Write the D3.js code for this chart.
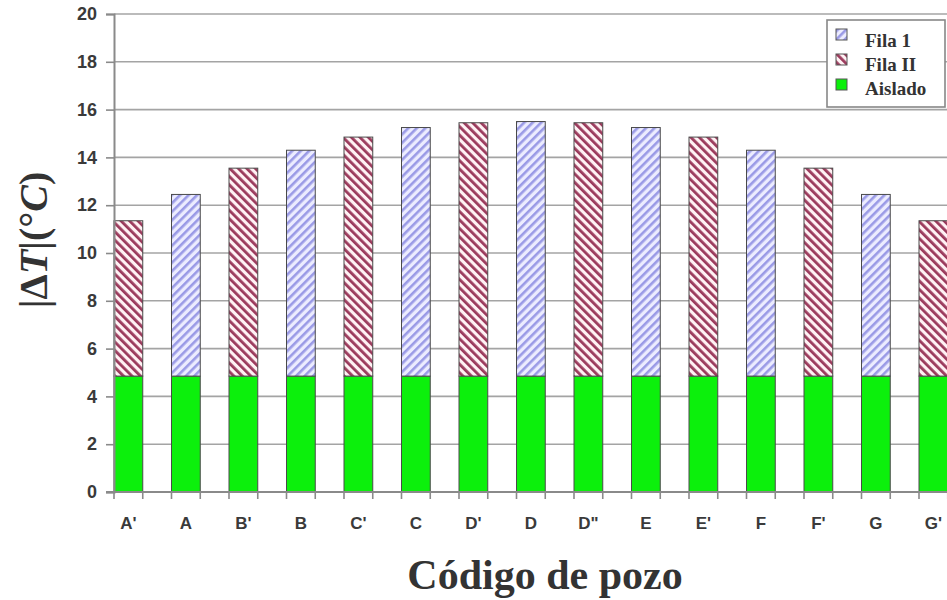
<!DOCTYPE html>
<html>
<head>
<meta charset="utf-8">
<script src="https://cdn.jsdelivr.net/npm/d3@7"></script>
<style>
  body { margin: 0; background: #fff; }
  svg { display: block; }
</style>
</head>
<body>
<div id="chart"></div>
<script>
'use strict';

// data
const categories = ["A'", "A", "B'", "B", "C'", "C", "D'", "D", 'D"', "E", "E'", "F", "F'", "G", "G'"];
const aislado = [4.85, 4.85, 4.85, 4.85, 4.85, 4.85, 4.85, 4.85, 4.85, 4.85, 4.85, 4.85, 4.85, 4.85, 4.85];
const fila1   = [0, 7.6, 0, 9.45, 0, 10.4, 0, 10.65, 0, 10.4, 0, 9.45, 0, 7.6, 0];
const fila2   = [6.5, 0, 8.7, 0, 10.0, 0, 10.6, 0, 10.6, 0, 10.0, 0, 8.7, 0, 6.5];
const yTicks  = [0, 2, 4, 6, 8, 10, 12, 14, 16, 18, 20];
const legendNames = ['Fila 1', 'Fila II', 'Aislado'];

if (document.readyState !== 'loading') {
  ready();
}
else {
  document.addEventListener('DOMContentLoaded', ready);
}

function ready() {
  const width = 947, height = 600;
  const svg = d3.select('#chart').append('svg').attr('width', width).attr('height', height);

  //hatch patterns
  const defs = svg.append('defs');
  let p1 = defs.append('pattern').attr('id', 'hatch1').attr('patternUnits', 'userSpaceOnUse')
    .attr('width', 6).attr('height', 6).attr('patternTransform', 'rotate(45)');
  p1.append('rect').attr('width', 6).attr('height', 6).attr('fill', '#ececff');
  p1.append('rect').attr('x', 0).attr('width', 2.6).attr('height', 6).attr('fill', '#9a9ae6');

  let p2 = defs.append('pattern').attr('id', 'hatch2').attr('patternUnits', 'userSpaceOnUse')
    .attr('width', 6).attr('height', 6).attr('patternTransform', 'rotate(-45)');
  p2.append('rect').attr('width', 6).attr('height', 6).attr('fill', '#fff2f4');
  p2.append('rect').attr('x', 0).attr('width', 2.8).attr('height', 6).attr('fill', '#9b3a5c');

  const fills = { fila1: 'url(#hatch1)', fila2: 'url(#hatch2)', aislado: '#0cf00c' };

  //scales
  let x = d3.scaleBand().domain(categories).range([114, 947.75]).paddingInner(0.5).paddingOuter(0).align(0);
  let y = d3.scaleLinear().domain([0, 20]).range([492, 14]);

  //gridlines
  svg.append('g').selectAll('line').data(yTicks.filter(d => d > 0)).join('line')
    .attr('x1', 114).attr('x2', width).attr('y1', d => y(d)).attr('y2', d => y(d))
    .attr('stroke', '#a4a4a4').attr('stroke-width', 1.6);

  //stacked bars
  let table = categories.map((c, i) => ({ cat: c, aislado: aislado[i], fila1: fila1[i], fila2: fila2[i] }));
  let stacked = d3.stack().keys(['aislado', 'fila1', 'fila2'])(table);

  svg.append('g').selectAll('g').data(stacked).join('g')
    .attr('fill', d => fills[d.key])
    .selectAll('rect').data(d => d.filter(s => s[1] - s[0] > 0)).join('rect')
    .attr('x', d => x(d.data.cat))
    .attr('y', d => y(d[1]))
    .attr('width', x.bandwidth())
    .attr('height', d => y(d[0]) - y(d[1]))
    .attr('stroke', '#4a4a4a').attr('stroke-width', 1);

  //y axis
  let yAxis = svg.append('g').attr('transform', 'translate(114,0)')
    .call(d3.axisLeft(y).tickValues(yTicks).tickSize(8).tickPadding(9));
  yAxis.select('.domain').attr('stroke', '#8a8a8a').attr('stroke-width', 2);
  yAxis.selectAll('.tick line').attr('stroke', '#8a8a8a').attr('stroke-width', 1.6);
  yAxis.selectAll('.tick text').attr('font-family', 'Liberation Sans, Arial, sans-serif')
    .attr('font-size', 18).attr('font-weight', 'bold').attr('fill', '#3a3a3a');

  //x axis: labels under each bar, ticks at both bar edges
  let xAxis = svg.append('g').attr('transform', 'translate(0,492)')
    .call(d3.axisBottom(x).tickSize(0).tickPadding(25));
  xAxis.select('.domain').remove();
  xAxis.selectAll('.tick text').attr('font-family', 'Liberation Sans, Arial, sans-serif')
    .attr('font-size', 17).attr('font-weight', 'bold').attr('fill', '#3a3a3a');

  svg.append('line').attr('x1', 106).attr('x2', width).attr('y1', 492).attr('y2', 492)
    .attr('stroke', '#8a8a8a').attr('stroke-width', 2);
  let edges = [];
  categories.forEach(c => { edges.push(x(c)); edges.push(x(c) + x.bandwidth()); });
  svg.append('g').selectAll('line').data(edges).join('line')
    .attr('x1', d => d).attr('x2', d => d).attr('y1', 492).attr('y2', 499)
    .attr('stroke', '#8a8a8a').attr('stroke-width', 1.6);

  //axis titles
  svg.append('text').attr('x', 545).attr('y', 589).attr('text-anchor', 'middle')
    .attr('font-family', 'Liberation Serif, Times New Roman, serif').attr('font-weight', 'bold')
    .attr('font-size', 42).attr('fill', '#333').text('Código de pozo');

  let yl = svg.append('text').attr('transform', 'translate(47,240) rotate(-90)').attr('text-anchor', 'middle')
    .attr('font-family', 'Liberation Serif, Times New Roman, serif').attr('font-weight', 'bold')
    .attr('font-size', 40).attr('fill', '#333');
  yl.append('tspan').text('|Δ');
  yl.append('tspan').attr('font-style', 'italic').text('T');
  yl.append('tspan').text('|(°');
  yl.append('tspan').attr('font-style', 'italic').text('C');
  yl.append('tspan').text(')');

  //legend
  let lg = svg.append('g');
  lg.append('rect').attr('x', 827).attr('y', 20).attr('width', 118).attr('height', 87)
    .attr('fill', '#fff').attr('stroke', '#888').attr('stroke-width', 1.6);
  let legendFills = [fills.fila1, fills.fila2, fills.aislado];
  legendNames.forEach((name, i) => {
    lg.append('rect').attr('x', 836).attr('y', 29 + i * 25).attr('width', 11).attr('height', 11)
      .attr('fill', legendFills[i]).attr('stroke', '#555').attr('stroke-width', 1);
    lg.append('text').attr('x', 865).attr('y', 47 + i * 24)
      .attr('font-family', 'Liberation Serif, Times New Roman, serif').attr('font-weight', 'bold')
      .attr('font-size', 19).attr('fill', '#333').text(name);
  });
}
</script>
</body>
</html>
